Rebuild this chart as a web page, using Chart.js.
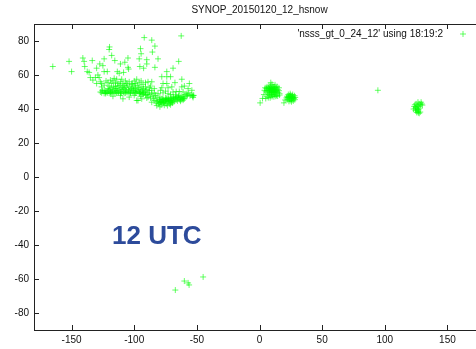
<!DOCTYPE html>
<html>
<head>
<meta charset="utf-8">
<script src="https://cdn.jsdelivr.net/npm/chart.js@4/dist/chart.umd.min.js"></script>
<style>
  html, body { margin: 0; padding: 0; overflow: hidden; background: #fff; width: 476px; height: 349px; }
  #wrap { position: relative; width: 490px; height: 349px; }
  #utc {
    position: absolute; left: 112px; top: 222px;
    font: bold 26px "Liberation Sans", Arial, sans-serif; line-height: 26px;
    color: #2d4b9b; white-space: nowrap;
  }
</style>
</head>
<body>
<div id="wrap">
  <canvas id="chart" width="490" height="349"></canvas>
  <div id="utc">12 UTC</div>
</div>
<script>
const chartTitle = "SYNOP_20150120_12_hsnow";
const seriesLabel = "'nsss_gt_0_24_12' using 18:19:2";
const xTicks = [-150, -100, -50, 0, 50, 100, 150];
const yTicks = [-80, -60, -40, -20, 0, 20, 40, 60, 80];

// [lon, lat] pairs
const alaskaArctic = [
  [-165,65],[-152,68],[-150,62],[-141,70],[-140,68],[-139.5,65],[-133.5,68.5],[-137.5,62],[-136,61.5],
  [-127.5,66.5],[-125,65.5],[-130,64],[-129,60],[-124,62],[-121.5,62],[-119.7,76.5],[-120,75],[-118,71.5],
  [-124,69.5],[-115.5,68.5],[-111,66.5],[-107.5,67.5],[-105,70],[-105,64.5],[-112,61],[-113.5,62],
  [-108.5,61.5],[-104.5,63.5],[-116,58],[-127,56],[-125.5,51],[-109,46],[-98,45],
  [-92,82],[-86,80.5],[-83.5,77],[-85.5,73.5],[-62.5,83],[-95,75.5],[-94.5,72.5],[-96,69.5],[-90,69],
  [-81,69.5],[-90,66.5],[-92.5,64],[-95.5,65],[-83.5,64.5],[-64.5,68],[-74,62],[-69,64],[-78,59],
  [-74,59],[-71,59],[-86,56],[-74,55],[-67.5,55.5],[-62,57.5],[-56,55],[-54,51],[-53,48],[-94,46],
  [-97,45],[-86,44],[-82,42],[-79.5,41.3],[-135,58.5],[-133,57],[-131,58.5],[-128,58.5],[-130,55]
];

const canadaBand = [
  [-127,50],[-126,49.5],[-125,50.5],[-124,49.2],[-123.5,51],[-123,49.8],[-122,50.2],[-121.5,49.5],[-121,52],
  [-120.5,50.7],[-120,49.3],[-119.5,51.5],[-119,50],[-118.5,52.5],[-118,49.6],[-117.5,51],[-117,50.2],
  [-116.5,53],[-116,49.5],[-115.5,51.8],[-115,50.5],[-114.5,49.3],[-114,52],[-113.5,50.8],[-113,53.5],
  [-112.5,49.8],[-112,51.2],[-111.5,54],[-111,50.3],[-110.5,52.5],[-110,49.5],[-109.5,51.5],[-109,53],
  [-108.5,50],[-108,52],[-107.5,49.3],[-107,51],[-106.5,52.8],[-106,50.2],[-105.5,54],[-105,49.7],
  [-104.5,51.5],[-104,50.5],[-103.5,53],[-103,49.4],[-102.5,52],[-102,50.8],[-101.5,55],[-101,49.8],
  [-100.5,51.3],[-100,53.5],[-99.5,50.2],[-99,52],[-98.5,49.5],[-98,51],[-97.5,54],[-97,50.3],[-96.5,52.5],
  [-96,49.6],[-95.5,51.5],[-95,50],[-94.5,53],[-94,49.3],[-93.5,51],[-93,50],[-92.5,52],[-92,49.6],
  [-91,50.5],[-90,51.5],[-89,49.5],[-88,50.8],
  [-126,55],[-124,54],[-122.5,56.5],[-121,55.5],[-119,57],[-118,55],[-117,56.5],[-115,55.5],[-114,57.5],
  [-113,55],[-111,56],[-110,57.5],[-109,55],[-107,56.5],[-106,55],[-104,56],[-102,54.5],[-100,56.5],
  [-99,55],[-98,57.5],[-96,55.5],[-94.5,56.5],[-93,54.5],[-91,55.5],[-89,56],[-87,53.5],[-126,53],
  [-120,53.5],[-115,53.5],[-108,54],[-101,52.5],[-117,47.5],[-104,47],[-100,48],[-111,48],
  [-122.8,49.1],[-118.8,49.2],[-113.8,49.4],[-110.8,49.2],[-106.8,49.5],[-102.8,49.2],[-99.2,49.3],
  [-95.8,49.1],[-92.8,48.9],[-89.8,48.6]
];

const eastNorthAmerica = [
  [-89,47],[-88,48.5],[-87,46.5],[-86,49],[-85,47.5],[-84.5,46],[-84,49.5],[-83.5,45],[-83,48],[-82.5,43.5],
  [-82,46.5],[-81.5,44.5],[-81,49],[-80.5,43],[-80,45.5],[-79.5,47],[-79,44],[-78.5,42.5],[-78,46],
  [-77.5,44.8],[-77,43.3],[-76.5,45.5],[-76,42.2],[-75.5,44],[-75,46.5],[-74.5,43],[-74,45.2],[-73.5,42],
  [-73,44.3],[-72.5,46],[-72,43],[-71.5,45],[-71,42.5],[-70.5,44],[-70,46.8],[-69.5,43.5],[-69,45.5],
  [-68.5,47.2],[-68,44.5],[-67.5,46],[-67,48.3],[-66.5,45.3],[-66,47],[-65.5,44.8],[-65,46.3],[-64.5,48],
  [-64,45.5],[-63.5,46.8],[-63,44.6],[-62.5,47.5],[-62,45.8],[-61.5,46.5],[-61,45.2],[-60.5,47],[-60,46],
  [-59.5,48.5],[-58.5,47.5],[-58,49],[-57.5,48],[-56.5,49.5],[-55.5,47.8],[-54.5,48.5],[-53.5,47.5],
  [-53,46.8],[-52.5,48],
  [-79,51],[-77,49.5],[-75,50.5],[-73,49],[-71,48.5],[-69,50],[-66.5,50.2],[-64,50.3],[-61,50],[-60,53.5],
  [-57,52],[-77,55],[-73,52.5],[-78,52.5],[-70,53],[-62,53],[-84,52],[-88,52.5],[-91,53],[-86,51],
  [-80.2,44.2],[-79.3,45.2],[-78.2,44.2],[-77.2,45.8],[-76.2,44.6],[-75.2,45.3],[-74.2,46.2],[-73.2,45.6],
  [-72.2,44.6],[-71.2,46.3],[-70.2,45.1],[-69.2,44.2],[-79.6,43.6],[-76.8,43.9],[-74.8,44.7],[-72.8,45.4],
  [-70.8,43.6],[-68.8,46.3],[-66.8,46.6],[-64.8,47.3],[-62.8,45.3],[-60.8,46.1],[-95,47.5],[-93,48.5],
  [-91,48],[-90,46.5]
];

const europe = [
  [4,51],[4.5,52.5],[5,50.5],[5.5,52],[6,53],[6,51],[6.5,49.5],[7,52.5],[7,50.5],[7.5,48.5],[7.5,53.5],
  [8,51.5],[8,49.5],[8.5,52.5],[8.5,47.8],[9,50.5],[9,53.5],[9.5,48.5],[9.5,51.5],[10,52.5],[10,49.8],
  [10.5,50.8],[10.5,48.2],[11,51.8],[11,53],[11.5,49.5],[11.5,50.5],[12,51.5],[12,48.5],[12.5,52.5],
  [12.5,50.2],[13,49.5],[13,51],[13.5,52.3],[13.5,48],[14,50.5],[14,53.2],[14.5,51.5],[15,49.8],
  [15.5,50.8],[15.5,52.5],[16,49],[9,55.5],[12.4,54.2],[10,54.5],[5,46.2],[0.5,43.6],[2.4,46.2],
  [6,47.5],[7,46.7],[8.5,46.6],[10,47.3],[11.5,47.2],[13,47.5],[14.5,47.6],[16,48.2],[3.5,48.5],
  [8.2,50.9],[9.3,52],[10.2,51.2],[11.2,50.1],[12.3,49.9],[9.8,50.3],[8.7,51.2],[10.8,52.1],[7.8,52],
  [11.8,52.8],[13.2,50.6],[9.6,49.4]
];

const easternEurope = [
  [21.5,46.5],[22,47.5],[22.5,45.5],[23,48.5],[23,46.8],[23.5,44.5],[24,47.8],[24,46],[24.5,49],
  [24.5,45],[25,47.2],[25,48.2],[25.5,46],[25.5,44.3],[26,47.5],[26,45.2],[26.5,48.5],[26.5,46.5],
  [27,47],[27,44.8],[27.5,46.2],[28,47.8],[28.5,46.8],[28.2,45.5],[22.8,47],[25.8,47],[24.5,46.6],
  [23.7,47.5],[19.5,43.6],[20.5,45.3],[94.5,51]
];

const eastAsia = [
  [123,40],[123.5,41.5],[124,42.5],[124.5,39],[125,43],[125,41],[125.5,38],[126,42],[126,40],[126.5,44],
  [126.5,38.5],[127,41.5],[127,39.5],[127.5,43],[127.5,37.5],[128,40.5],[128.5,42.5],[129,44],[129.5,43],
  [130,42.3],[124.5,40.5],[125.5,39.5],[126.8,37.8],[128.3,38.2]
];

const southern = [[-60,-61.2],[-57,-62.3],[-56.2,-63.5],[-67.2,-66.5],[-45,-58.8]];

const allPoints = [].concat(alaskaArctic, canadaBand, eastNorthAmerica, europe, easternEurope, eastAsia, southern)
  .map(p => ({ x: p[0], y: p[1] }));

const textFont = '10px "Liberation Sans", Arial, sans-serif';
const markColor = "rgba(0,255,0,0.6)";

const framePlugin = {
  id: "frame",
  afterDraw(chart) {
    const ctx = chart.ctx;
    const a = chart.chartArea;
    const x = chart.scales.x, y = chart.scales.y;
    ctx.save();
    ctx.strokeStyle = "#222";
    ctx.lineWidth = 1;
    ctx.strokeRect(a.left + 0.5, a.top + 0.5, a.right - a.left - 1, a.bottom - a.top);
    ctx.beginPath();
    xTicks.forEach(v => {
      const px = Math.round(x.getPixelForValue(v)) + 0.5;
      ctx.moveTo(px, a.bottom); ctx.lineTo(px, a.bottom - 5);
      ctx.moveTo(px, a.top); ctx.lineTo(px, a.top + 5);
    });
    yTicks.forEach(v => {
      const py = Math.round(y.getPixelForValue(v)) + 0.5;
      ctx.moveTo(a.left, py); ctx.lineTo(a.left + 5, py);
      ctx.moveTo(a.right, py); ctx.lineTo(a.right - 5, py);
    });
    ctx.stroke();

    // title centred over plot
    ctx.fillStyle = "#111";
    ctx.font = textFont;
    ctx.textAlign = "center";
    ctx.textBaseline = "middle";
    ctx.fillText(chartTitle, (a.left + a.right) / 2, 10);

    // gnuplot-style key
    ctx.textAlign = "right";
    ctx.fillText(seriesLabel, 443, 34);
    ctx.strokeStyle = markColor;
    ctx.beginPath();
    ctx.moveTo(460, 34); ctx.lineTo(466, 34);
    ctx.moveTo(463, 31); ctx.lineTo(463, 37);
    ctx.stroke();
    ctx.restore();
  }
};

new Chart(document.getElementById("chart"), {
  type: "scatter",
  data: {
    datasets: [{
      label: seriesLabel,
      data: allPoints,
      pointStyle: "cross",
      pointRadius: 3,
      pointBorderWidth: 1,
      borderColor: markColor,
      backgroundColor: markColor
    }]
  },
  options: {
    responsive: false,
    animation: false,
    layout: { padding: { top: 24, right: 0, left: 0, bottom: 0 } },
    plugins: { legend: { display: false }, tooltip: { enabled: false }, title: { display: false } },
    scales: {
      x: {
        type: "linear", min: -180, max: 180,
        grid: { display: false, drawTicks: false }, border: { display: false },
        afterBuildTicks: s => { s.ticks = xTicks.map(v => ({ value: v })); },
        afterFit: s => { s.height = 19; },
        ticks: { color: "#111", font: { family: '"Liberation Sans", Arial, sans-serif', size: 10 }, padding: 4, maxRotation: 0 }
      },
      y: {
        type: "linear", min: -90, max: 90,
        grid: { display: false, drawTicks: false }, border: { display: false },
        afterBuildTicks: s => { s.ticks = yTicks.map(v => ({ value: v })); },
        afterFit: s => { s.width = 34; },
        ticks: { color: "#111", font: { family: '"Liberation Sans", Arial, sans-serif', size: 10 }, padding: 5 }
      }
    }
  },
  plugins: [framePlugin]
});
</script>
</body>
</html>
